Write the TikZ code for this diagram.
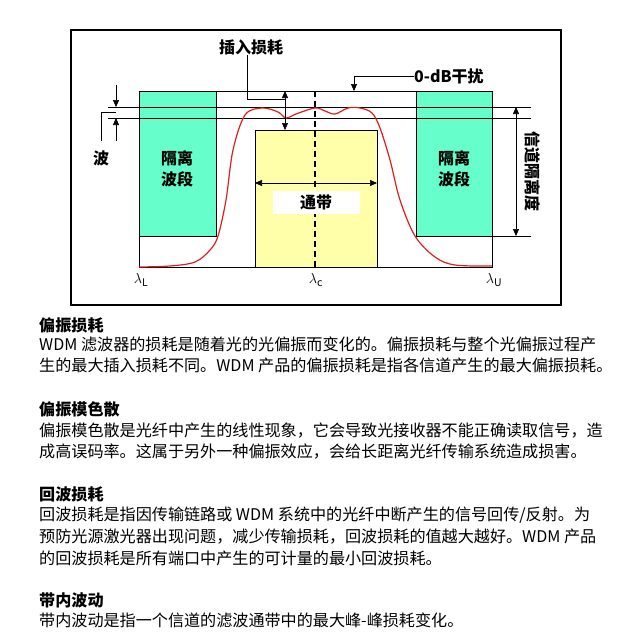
\documentclass[tikz,border=0pt]{standalone}
\usepackage{fontspec}
\setmainfont{Noto Sans CJK SC}
\usetikzlibrary{arrows.meta}
\definecolor{isogreen}{RGB}{102,255,204}
\definecolor{passyellow}{RGB}{255,255,170}
\definecolor{curvered}{RGB}{220,30,30}

\tikzset{
  thin line/.style={line width=0.6pt},
  arr/.style={thin line,-{Triangle[length=7pt,width=6pt]}},
  darr/.style={thin line,{Triangle[length=7pt,width=6pt]}-{Triangle[length=7pt,width=6pt]}},
  lbl/.style={inner sep=0pt,font=\bfseries\fontsize{16}{16}\selectfont},
  body/.style={anchor=west,inner sep=0pt,font=\fontsize{16.1}{16.1}\selectfont},
  head/.style={body,font=\bfseries\fontsize{16.1}{16.1}\selectfont},
  wl/.style={font=\fontsize{15}{15}\selectfont},
}

\begin{document}
\begin{tikzpicture}[x=1pt,y=-1pt]
 \useasboundingbox (0,0) rectangle (639,632);
 % frame
 \draw[line width=1.6pt] (71,30) rectangle (561,305);
 % isolation bands and pass band
 \draw[thin line,fill=isogreen] (139,91) rectangle (216,236);
 \draw[thin line,fill=isogreen] (416,91) rectangle (492,236);
 \draw[thin line,fill=passyellow] (255,130) rectangle (377,267);
 \draw[thin line] (216,91) -- (416,91);
 \draw[thin line] (139,236) -- (139,267) -- (492,267) -- (492,236);
 \draw[line width=1.5pt,dash pattern=on 6pt off 4pt] (315,91) -- (315,267);
 \draw[thin line] (108,107) -- (531,107);
 \draw[thin line] (108,118) -- (531,118);
 \draw[thin line] (477,236) -- (531,236);
 % filter curve
 \draw[curvered,line width=1.2pt] plot[smooth,tension=0.55] coordinates {
   (139,267) (170,266) (195,262) (210,250) (218,236) (226,200) (233,150)
   (245,115) (262,108) (278,112) (286,118) (296,114) (315,108) (325,111)
   (335,114) (348,108) (360,108) (372,113) (380,128) (390,160) (400,200)
   (415,236) (435,257) (455,265) (492,266)};
 % labels inside the plot
 \node[lbl,align=center] (isoL) at (177,169) {隔离\\[5pt]波段};
 \node[lbl,align=center] (isoR) at (454,169) {隔离\\[5pt]波段};
 \draw[darr] (255,183) -- (377,183);
 \node[lbl,fill=white,minimum width=87pt,minimum height=23pt] (pass) at (316,202) {通带};
 % insertion loss
 \node[lbl] (il) at (251,47) {插入损耗};
 \coordinate (ilA) at (285,91);
 \coordinate (ilB) at (285,130);
 \draw[thin line] (il.south -| 247,0) -- (247,99) -- (285,99);
 \draw[darr] (ilA) -- (ilB);
 % 0-dB
 \node[lbl,anchor=west] (zdb) at (414,76) {0-dB干扰};
 \draw[arr] (zdb.west) -- (354,76) -- (354,91);
 % ripple
 \draw[arr] (116,85) -- (116,107);
 \draw[arr] (116,141) -- (116,118);
 \draw[thin line] (116,112) -- (101,112) -- (101,141);
 \node[lbl] (rip) at (101,158) {波};
 % channel isolation
 \draw[darr] (516,107) -- (516,236);
 \node[lbl,rotate=-90] (ciso) at (533,171) {信道隔离度};
 % wavelengths
 \node[wl] (lL) at (141,280) {$\lambda_{\mathrm{L}}$};
 \node[wl] (lc) at (316,280) {$\lambda_{\mathrm{c}}$};
 \node[wl] (lU) at (494,280) {$\lambda_{\mathrm{U}}$};
 % text below
 \node[head] (h1) at (39,325) {偏振损耗};
 \node[body] (t11) at (39,344) {WDM 滤波器的损耗是随着光的光偏振而变化的。偏振损耗与整个光偏振过程产};
 \node[body] (t12) at (39,365) {生的最大插入损耗不同。WDM 产品的偏振损耗是指各信道产生的最大偏振损耗。};
 \node[head] (h2) at (39,409) {偏振模色散};
 \node[body] (t21) at (39,431) {偏振模色散是光纤中产生的线性现象，它会导致光接收器不能正确读取信号，造};
 \node[body] (t22) at (39,452) {成高误码率。这属于另外一种偏振效应，会给长距离光纤传输系统造成损害。};
 \node[head] (h3) at (39,494) {回波损耗};
 \node[body] (t31) at (39,515) {回波损耗是指因传输链路或 WDM 系统中的光纤中断产生的信号回传/反射。为};
 \node[body] (t32) at (39,537) {预防光源激光器出现问题，减少传输损耗，回波损耗的值越大越好。WDM 产品};
 \node[body] (t33) at (39,558) {的回波损耗是所有端口中产生的可计量的最小回波损耗。};
 \node[head] (h4) at (39,600) {带内波动};
 \node[body] (t41) at (39,620) {带内波动是指一个信道的滤波通带中的最大峰-峰损耗变化。};
\end{tikzpicture}
\end{document}
